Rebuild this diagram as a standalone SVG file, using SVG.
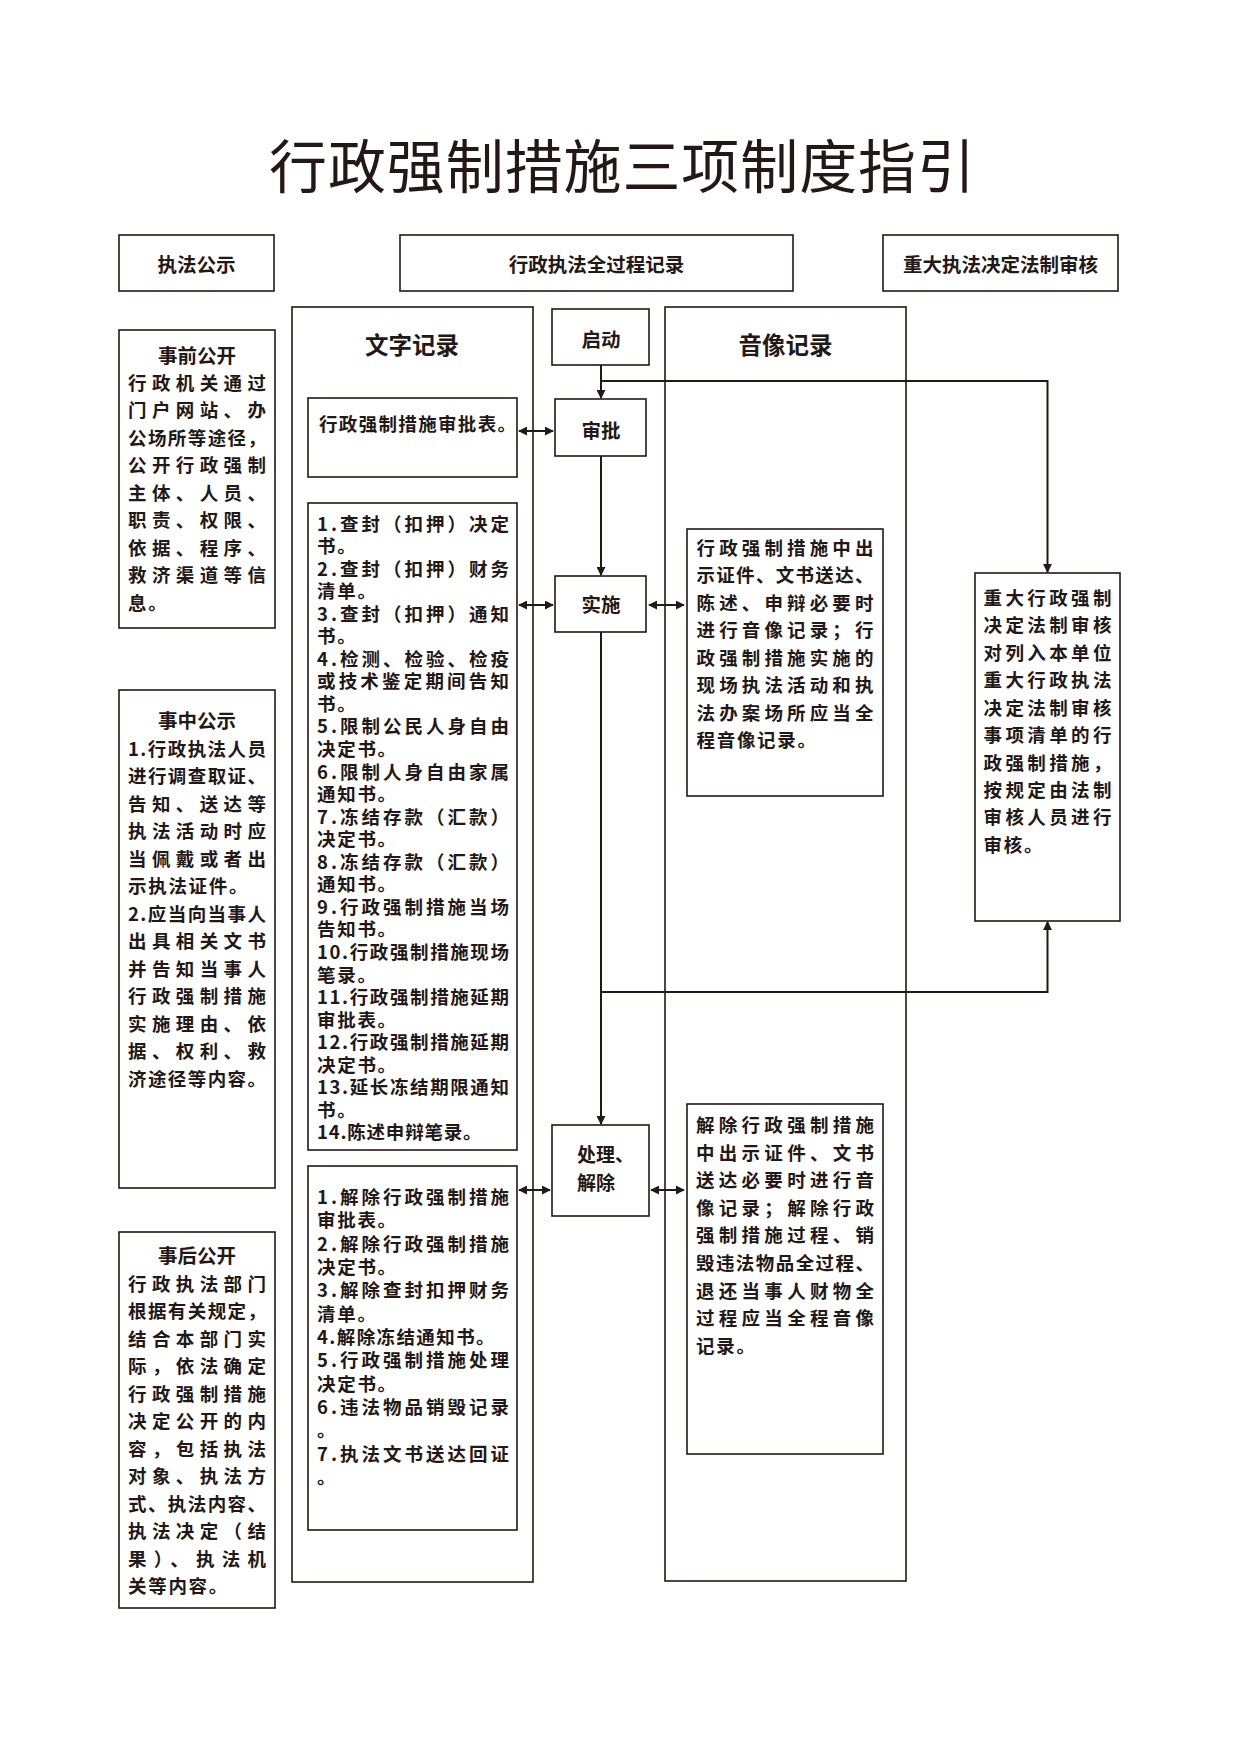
<svg xmlns="http://www.w3.org/2000/svg" width="1240" height="1754" viewBox="0 0 1240 1754">
<style>
text{font-family:"Noto Sans CJK SC","Noto Sans CJK JP",sans-serif;fill:#231815;}
.title{font-size:58px;font-weight:400;text-anchor:middle;}
.b{font-size:18.5px;font-weight:700;}
.s{letter-spacing:1.7px;}
.h{font-size:19.5px;font-weight:700;text-anchor:middle;}
.tt{font-size:19.5px;font-weight:700;text-anchor:middle;}
.ct{font-size:23.5px;font-weight:700;text-anchor:middle;}
.box{fill:#fff;stroke:#231815;stroke-width:1.6;}
.col{fill:none;stroke:#231815;stroke-width:1.6;}
.ln{fill:none;stroke:#231815;stroke-width:2;}
</style>
<defs>
<marker id="ah" viewBox="0 0 10 10" refX="9" refY="5" markerWidth="9" markerHeight="9" markerUnits="userSpaceOnUse" orient="auto-start-reverse"><path d="M0,0 L10,5 L0,10 z" fill="#231815"/></marker>
</defs>
<rect width="1240" height="1754" fill="#fff"/>
<text class="title" x="622" y="188" textLength="706" lengthAdjust="spacing">行政强制措施三项制度指引</text>

<g id="h1"><rect class="box" x="119" y="235" width="155" height="56"/><text class="h" x="196.5" y="272">执法公示</text></g>
<g id="h2"><rect class="box" x="400" y="235" width="393" height="56"/><text class="h" x="596.5" y="272">行政执法全过程记录</text></g>
<g id="h3"><rect class="box" x="883" y="235" width="235" height="56"/><text class="h" x="1000.5" y="272">重大执法决定法制审核</text></g>

<g id="colText"><rect class="col" x="292" y="307" width="241" height="1275"/><text class="ct" x="412" y="354">文字记录</text></g>
<g id="colAV"><rect class="col" x="665" y="307" width="241" height="1274"/><text class="ct" x="785.5" y="354">音像记录</text></g>

<g id="pre">
<rect class="box" x="119" y="330" width="156" height="298"/>
<text class="tt" x="197" y="363">事前公开</text>
<g class="b">
<text x="128" y="389.5" textLength="138" lengthAdjust="spacing">行政机关通过</text>
<text x="128" y="417" textLength="138" lengthAdjust="spacing">门户网站、办</text>
<text x="128" y="444.5" textLength="138" lengthAdjust="spacing">公场所等途径，</text>
<text x="128" y="472" textLength="138" lengthAdjust="spacing">公开行政强制</text>
<text x="128" y="499.5" textLength="138" lengthAdjust="spacing">主体、人员、</text>
<text x="128" y="527" textLength="138" lengthAdjust="spacing">职责、权限、</text>
<text x="128" y="554.5" textLength="138" lengthAdjust="spacing">依据、程序、</text>
<text x="128" y="582" textLength="138" lengthAdjust="spacing">救济渠道等信</text>
<text class="s" x="128" y="609.5">息。</text>
</g>
</g>

<g id="mid">
<rect class="box" x="119" y="690" width="156" height="498"/>
<text class="tt" x="197" y="728">事中公示</text>
<g class="b">
<text x="128" y="755.5" textLength="138" lengthAdjust="spacing">1.行政执法人员</text>
<text x="128" y="783" textLength="138" lengthAdjust="spacing">进行调查取证、</text>
<text x="128" y="810.5" textLength="138" lengthAdjust="spacing">告知、送达等</text>
<text x="128" y="838" textLength="138" lengthAdjust="spacing">执法活动时应</text>
<text x="128" y="865.5" textLength="138" lengthAdjust="spacing">当佩戴或者出</text>
<text class="s" x="128" y="893">示执法证件。</text>
<text x="128" y="920.5" textLength="138" lengthAdjust="spacing">2.应当向当事人</text>
<text x="128" y="948" textLength="138" lengthAdjust="spacing">出具相关文书</text>
<text x="128" y="975.5" textLength="138" lengthAdjust="spacing">并告知当事人</text>
<text x="128" y="1003" textLength="138" lengthAdjust="spacing">行政强制措施</text>
<text x="128" y="1030.5" textLength="138" lengthAdjust="spacing">实施理由、依</text>
<text x="128" y="1058" textLength="138" lengthAdjust="spacing">据、权利、救</text>
<text x="128" y="1085.5" textLength="138" lengthAdjust="spacing">济途径等内容。</text>
</g>
</g>

<g id="post">
<rect class="box" x="119" y="1232" width="156" height="376"/>
<text class="tt" x="197" y="1263">事后公开</text>
<g class="b">
<text x="128" y="1290.5" textLength="138" lengthAdjust="spacing">行政执法部门</text>
<text x="128" y="1318" textLength="138" lengthAdjust="spacing">根据有关规定，</text>
<text x="128" y="1345.5" textLength="138" lengthAdjust="spacing">结合本部门实</text>
<text x="128" y="1373" textLength="138" lengthAdjust="spacing">际，依法确定</text>
<text x="128" y="1400.5" textLength="138" lengthAdjust="spacing">行政强制措施</text>
<text x="128" y="1428" textLength="138" lengthAdjust="spacing">决定公开的内</text>
<text x="128" y="1455.5" textLength="138" lengthAdjust="spacing">容，包括执法</text>
<text x="128" y="1483" textLength="138" lengthAdjust="spacing">对象、执法方</text>
<text x="128" y="1510.5" textLength="138" lengthAdjust="spacing">式、执法内容、</text>
<text x="128" y="1538" textLength="138" lengthAdjust="spacing">执法决定（结</text>
<text x="128" y="1565.5" textLength="138" lengthAdjust="spacing">果）、执法机</text>
<text class="s" x="128" y="1593">关等内容。</text>
</g>
</g>

<g id="docApprove">
<rect class="box" x="308" y="398" width="209" height="79"/>
<text class="b" x="319" y="430.5" textLength="197" lengthAdjust="spacing">行政强制措施审批表。</text>
</g>

<g id="docList1">
<rect class="box" x="308" y="503" width="209" height="647"/>
<g class="b">
<text x="317" y="530.5" textLength="192" lengthAdjust="spacing">1.查封（扣押）决定</text>
<text class="s" x="317" y="553.05">书。</text>
<text x="317" y="575.6" textLength="192" lengthAdjust="spacing">2.查封（扣押）财务</text>
<text class="s" x="317" y="598.15">清单。</text>
<text x="317" y="620.7" textLength="192" lengthAdjust="spacing">3.查封（扣押）通知</text>
<text class="s" x="317" y="643.25">书。</text>
<text x="317" y="665.8" textLength="192" lengthAdjust="spacing">4.检测、检验、检疫</text>
<text x="317" y="688.35" textLength="192" lengthAdjust="spacing">或技术鉴定期间告知</text>
<text class="s" x="317" y="710.9">书。</text>
<text x="317" y="733.45" textLength="192" lengthAdjust="spacing">5.限制公民人身自由</text>
<text class="s" x="317" y="756">决定书。</text>
<text x="317" y="778.55" textLength="192" lengthAdjust="spacing">6.限制人身自由家属</text>
<text class="s" x="317" y="801.1">通知书。</text>
<text x="317" y="823.65" textLength="192" lengthAdjust="spacing">7.冻结存款（汇款）</text>
<text class="s" x="317" y="846.2">决定书。</text>
<text x="317" y="868.75" textLength="192" lengthAdjust="spacing">8.冻结存款（汇款）</text>
<text class="s" x="317" y="891.3">通知书。</text>
<text x="317" y="913.85" textLength="192" lengthAdjust="spacing">9.行政强制措施当场</text>
<text class="s" x="317" y="936.4">告知书。</text>
<text x="317" y="958.95" textLength="192" lengthAdjust="spacing">10.行政强制措施现场</text>
<text class="s" x="317" y="981.5">笔录。</text>
<text x="317" y="1004.05" textLength="192" lengthAdjust="spacing">11.行政强制措施延期</text>
<text class="s" x="317" y="1026.6">审批表。</text>
<text x="317" y="1049.15" textLength="192" lengthAdjust="spacing">12.行政强制措施延期</text>
<text class="s" x="317" y="1071.7">决定书。</text>
<text x="317" y="1094.25" textLength="192" lengthAdjust="spacing">13.延长冻结期限通知</text>
<text class="s" x="317" y="1116.8">书。</text>
<text x="317" y="1139.35" style="letter-spacing:0.8px">14.陈述申辩笔录。</text>
</g>
</g>

<g id="docList2">
<rect class="box" x="308" y="1166" width="209" height="364"/>
<g class="b">
<text x="317" y="1203.8" textLength="192" lengthAdjust="spacing">1.解除行政强制措施</text>
<text class="s" x="317" y="1227.15">审批表。</text>
<text x="317" y="1250.5" textLength="192" lengthAdjust="spacing">2.解除行政强制措施</text>
<text class="s" x="317" y="1273.85">决定书。</text>
<text x="317" y="1297.2" textLength="192" lengthAdjust="spacing">3.解除查封扣押财务</text>
<text class="s" x="317" y="1320.55">清单。</text>
<text x="317" y="1343.9" style="letter-spacing:1.4px">4.解除冻结通知书。</text>
<text x="317" y="1367.25" textLength="192" lengthAdjust="spacing">5.行政强制措施处理</text>
<text class="s" x="317" y="1390.6">决定书。</text>
<text x="317" y="1413.95" textLength="192" lengthAdjust="spacing">6.违法物品销毁记录</text>
<text x="317" y="1437.3">。</text>
<text x="317" y="1460.65" textLength="192" lengthAdjust="spacing">7.执法文书送达回证</text>
<text x="317" y="1484">。</text>
</g>
</g>

<g id="start"><rect class="box" x="552" y="309" width="97" height="56"/><text class="h" x="601" y="346.5">启动</text></g>
<g id="approve"><rect class="box" x="555" y="399" width="91" height="57"/><text class="h" x="601" y="438">审批</text></g>
<g id="implement"><rect class="box" x="555" y="576" width="91" height="56"/><text class="h" x="601" y="611.5">实施</text></g>
<g id="handle"><rect class="box" x="552" y="1125" width="97" height="91"/>
<text class="b" x="577" y="1162" style="font-size:19px">处理、</text>
<text class="b" x="577" y="1190" style="font-size:19px">解除</text></g>

<g id="av1">
<rect class="box" x="687" y="529" width="196" height="267"/>
<g class="b">
<text x="696.5" y="554.8" textLength="177" lengthAdjust="spacing">行政强制措施中出</text>
<text x="696.5" y="582.25" textLength="177" lengthAdjust="spacing">示证件、文书送达、</text>
<text x="696.5" y="609.7" textLength="177" lengthAdjust="spacing">陈述、申辩必要时</text>
<text x="696.5" y="637.15" textLength="177" lengthAdjust="spacing">进行音像记录；行</text>
<text x="696.5" y="664.6" textLength="177" lengthAdjust="spacing">政强制措施实施的</text>
<text x="696.5" y="692.05" textLength="177" lengthAdjust="spacing">现场执法活动和执</text>
<text x="696.5" y="719.5" textLength="177" lengthAdjust="spacing">法办案场所应当全</text>
<text class="s" x="696.5" y="746.95">程音像记录。</text>
</g>
</g>

<g id="av2">
<rect class="box" x="687" y="1104" width="196" height="350"/>
<g class="b">
<text x="696" y="1132" textLength="178" lengthAdjust="spacing">解除行政强制措施</text>
<text x="696" y="1159.6" textLength="178" lengthAdjust="spacing">中出示证件、文书</text>
<text x="696" y="1187.2" textLength="178" lengthAdjust="spacing">送达必要时进行音</text>
<text x="696" y="1214.8" textLength="178" lengthAdjust="spacing">像记录；解除行政</text>
<text x="696" y="1242.4" textLength="178" lengthAdjust="spacing">强制措施过程、销</text>
<text x="696" y="1270" textLength="178" lengthAdjust="spacing">毁违法物品全过程、</text>
<text x="696" y="1297.6" textLength="178" lengthAdjust="spacing">退还当事人财物全</text>
<text x="696" y="1325.2" textLength="178" lengthAdjust="spacing">过程应当全程音像</text>
<text class="s" x="696" y="1352.8">记录。</text>
</g>
</g>

<g id="review">
<rect class="box" x="975" y="573" width="145" height="348"/>
<g class="b">
<text x="983.5" y="604.8" textLength="128" lengthAdjust="spacing">重大行政强制</text>
<text x="983.5" y="632.25" textLength="128" lengthAdjust="spacing">决定法制审核</text>
<text x="983.5" y="659.7" textLength="128" lengthAdjust="spacing">对列入本单位</text>
<text x="983.5" y="687.15" textLength="128" lengthAdjust="spacing">重大行政执法</text>
<text x="983.5" y="714.6" textLength="128" lengthAdjust="spacing">决定法制审核</text>
<text x="983.5" y="742.05" textLength="128" lengthAdjust="spacing">事项清单的行</text>
<text x="983.5" y="769.5" textLength="128" lengthAdjust="spacing">政强制措施，</text>
<text x="983.5" y="796.95" textLength="128" lengthAdjust="spacing">按规定由法制</text>
<text x="983.5" y="824.4" textLength="128" lengthAdjust="spacing">审核人员进行</text>
<text class="s" x="983.5" y="851.85">审核。</text>
</g>
</g>

<g id="connectors">
<path class="ln" d="M601,365 V398" marker-end="url(#ah)"/>
<path class="ln" d="M601,381 H1047.5 V572" marker-end="url(#ah)"/>
<path class="ln" d="M601,456 V575" marker-end="url(#ah)"/>
<path class="ln" d="M601,632 V1124" marker-end="url(#ah)"/>
<path class="ln" d="M601,992 H1047.5 V922" marker-end="url(#ah)"/>
<path class="ln" d="M519,431 H553" marker-start="url(#ah)" marker-end="url(#ah)"/>
<path class="ln" d="M519,605 H553" marker-start="url(#ah)" marker-end="url(#ah)"/>
<path class="ln" d="M649,605 H684" marker-start="url(#ah)" marker-end="url(#ah)"/>
<path class="ln" d="M519,1190 H550" marker-start="url(#ah)" marker-end="url(#ah)"/>
<path class="ln" d="M651,1190 H684" marker-start="url(#ah)" marker-end="url(#ah)"/>
</g>
</svg>
